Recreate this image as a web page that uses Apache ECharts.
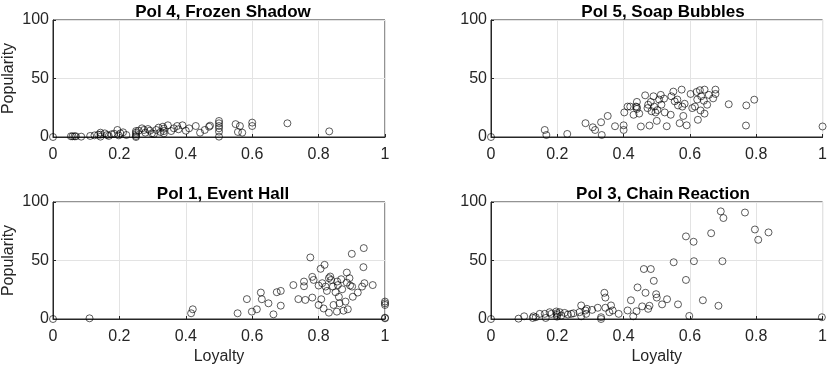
<!DOCTYPE html>
<html>
<head>
<meta charset="utf-8">
<script src="https://cdn.jsdelivr.net/npm/echarts@6/dist/echarts.min.js"></script>
<style>
  html, body { margin: 0; padding: 0; background: #fff; }
  #chart { width: 830px; height: 368px; }
</style>
</head>
<body>
<div id="chart"></div>
<script>
// panel titles, in drawing order: top-left, top-right, bottom-left, bottom-right
const titles = ['Pol 4, Frozen Shadow', 'Pol 5, Soap Bubbles', 'Pol 1, Event Hall', 'Pol 3, Chain Reaction']
const xTicks = [0, 0.2, 0.4, 0.6, 0.8, 1]
const yTicks = [0, 50, 100]

// [loyalty, popularity]
const frozenShadow = [
  [0, 0], [0.054, 0.6], [0.059, 0.6], [0.065, 0.6], [0.069, 0.6], [0.085, 0.3], [0.112, 0.9],
  [0.125, 1.4], [0.136, 2], [0.143, 3.7], [0.143, 2], [0.143, 0.3], [0.156, 3.1], [0.163, 1.7],
  [0.168, 0.9], [0.176, 2.3], [0.184, 2.8], [0.194, 6], [0.198, 1.4], [0.203, 3.1], [0.211, 4],
  [0.221, 1.7], [0.25, 5.1], [0.25, 3.7], [0.25, 2.3], [0.25, 0.9], [0.25, 0], [0.258, 5.4],
  [0.268, 7.4], [0.274, 6], [0.278, 3.7], [0.286, 6.8], [0.292, 5.4], [0.298, 3.1], [0.304, 2.6],
  [0.311, 6], [0.318, 8], [0.324, 4.3], [0.331, 8.8], [0.334, 7.1], [0.334, 5.1], [0.334, 3.1],
  [0.346, 10], [0.356, 5.1], [0.364, 7.4], [0.374, 9.4], [0.378, 6.6], [0.39, 10], [0.4, 5.4],
  [0.41, 7.4], [0.43, 9.4], [0.443, 3.7], [0.457, 6], [0.47, 8.8], [0.473, 9.7], [0.5, 13.7],
  [0.5, 11.7], [0.5, 9.4], [0.5, 7.4], [0.5, 4.6], [0.5, 0.3], [0.55, 11], [0.557, 4.3],
  [0.563, 9.4], [0.57, 3.7], [0.6, 12.3], [0.6, 9.4], [0.706, 11.7], [0.832, 4.8]
]
const soapBubbles = [
  [0, 0], [0.162, 6], [0.167, 1.7], [0.23, 2.6], [0.285, 11.8], [0.307, 8.3], [0.314, 6],
  [0.332, 12.6], [0.334, 1.7], [0.352, 18], [0.374, 9.2], [0.4, 10], [0.4, 6], [0.402, 21],
  [0.412, 26], [0.42, 26], [0.43, 19], [0.437, 26], [0.44, 30], [0.44, 25.6], [0.44, 24],
  [0.447, 20], [0.452, 9], [0.465, 35.6], [0.472, 24.7], [0.474, 27.6], [0.478, 9.8], [0.482, 30],
  [0.484, 22], [0.49, 34.8], [0.492, 26], [0.496, 21], [0.5, 13.8], [0.502, 23], [0.507, 32],
  [0.512, 36], [0.514, 27.6], [0.522, 32.8], [0.524, 21], [0.53, 9.2], [0.542, 19], [0.544, 34.8],
  [0.55, 38.8], [0.554, 30.5], [0.562, 32], [0.564, 27], [0.569, 11.8], [0.575, 40.5], [0.577, 26],
  [0.58, 18], [0.584, 28.4], [0.59, 10], [0.602, 36.8], [0.607, 24.7], [0.615, 26], [0.62, 38.5],
  [0.622, 32], [0.624, 14.7], [0.63, 40], [0.632, 22.7], [0.634, 34.8], [0.642, 31], [0.644, 40.5],
  [0.644, 20], [0.652, 27.6], [0.657, 36], [0.67, 33], [0.677, 36.8], [0.677, 40.5], [0.717, 28],
  [0.77, 27], [0.769, 9.8], [0.794, 31.9], [1, 9]
]
const eventHall = [
  [0, 0], [0.11, 0.6], [0.416, 4.9], [0.421, 8.3], [0.556, 4.9], [0.584, 17], [0.599, 6.3],
  [0.614, 8.3], [0.626, 22.6], [0.629, 16.9], [0.649, 13.4], [0.664, 4], [0.674, 22.9], [0.686, 24],
  [0.686, 11.4], [0.724, 29], [0.739, 17], [0.756, 32], [0.756, 28], [0.76, 16.3], [0.775, 52.6],
  [0.781, 18.3], [0.781, 36], [0.785, 33.4], [0.8, 28.6], [0.8, 12], [0.806, 42.9], [0.808, 16.9],
  [0.811, 30.6], [0.818, 46.3], [0.815, 9], [0.821, 27.7], [0.825, 24], [0.831, 5.4], [0.831, 34.9],
  [0.835, 36.3], [0.838, 33.4], [0.843, 27.7], [0.845, 12], [0.851, 22.9], [0.856, 32], [0.858, 29],
  [0.861, 19], [0.855, 6.3], [0.863, 13.4], [0.868, 34], [0.871, 25.4], [0.875, 7.1], [0.881, 14.9],
  [0.885, 39.7], [0.885, 31.1], [0.888, 8.3], [0.893, 34.9], [0.895, 28.6], [0.9, 55.7], [0.901, 27.7],
  [0.903, 19], [0.918, 22.6], [0.931, 27.7], [0.935, 44.3], [0.936, 60.6], [0.938, 30.6], [0.963, 29],
  [1, 14.9], [1, 13.4], [1, 12], [1, 1.1], [1, 0.6]
]
const chainReaction = [
  [0, 0], [0.083, 0.3], [0.1, 2.3], [0.126, 0.9], [0.128, 2.3], [0.135, 1.5], [0.147, 4.4],
  [0.162, 4.4], [0.165, 0.9], [0.177, 5.8], [0.182, 4.4], [0.197, 6.4], [0.199, 4.9], [0.199, 3.5],
  [0.199, 2], [0.207, 5.8], [0.212, 2.9], [0.222, 5.2], [0.232, 3.8], [0.242, 4.4], [0.249, 4.9],
  [0.267, 5.8], [0.272, 11.6], [0.272, 2.3], [0.285, 7.3], [0.287, 4.4], [0.289, 8.7], [0.305, 7.8],
  [0.322, 9.6], [0.332, 1.5], [0.332, 0], [0.342, 22.4], [0.345, 18.3], [0.345, 9.6], [0.357, 5.8],
  [0.362, 11.6], [0.367, 7.3], [0.385, 4.4], [0.412, 7.3], [0.422, 16], [0.429, 2.3], [0.439, 6.7],
  [0.442, 27], [0.456, 10.8], [0.461, 42.7], [0.466, 22.4], [0.474, 8.7], [0.478, 11.3], [0.482, 42.7],
  [0.491, 32.6], [0.498, 21.2], [0.5, 18.3], [0.516, 12.5], [0.531, 16.9], [0.551, 48.5], [0.564, 12.5],
  [0.588, 70.6], [0.588, 33.4], [0.598, 2.6], [0.611, 66], [0.612, 49.4], [0.639, 16], [0.664, 73.3],
  [0.686, 11.3], [0.693, 92], [0.698, 49.4], [0.701, 86.3], [0.766, 91], [0.796, 76.5], [0.806, 67.7],
  [0.837, 74], [0.998, 1.5]
]
const panelData = [frozenShadow, soapBubbles, eventHall, chainReaction]

const font = 'Liberation Sans, Arial, Helvetica, sans-serif'
const axisColor = '#262626'
// plot boxes: [left, top]
const boxes = [[51, 20], [491, 20], [51, 202], [491, 202]]
const boxW = 334
const boxH = 117

const grids = boxes.map(b => ({
  left: b[0], top: b[1], width: boxW, height: boxH,
  show: true, borderColor: axisColor, borderWidth: 1, backgroundColor: '#fff'
}))

const xAxes = boxes.map((b, i) => ({
  gridIndex: i, type: 'value', min: 0, max: 1, interval: 0.2,
  name: i >= 2 ? 'Loyalty' : '', nameLocation: 'middle', nameGap: 30,
  nameTextStyle: { fontFamily: font, fontSize: 16, color: axisColor },
  axisLine: { show: true, lineStyle: { color: axisColor, width: 1 } },
  axisTick: { show: true, inside: true, length: 3, lineStyle: { color: axisColor } },
  axisLabel: { fontFamily: font, fontSize: 16, color: axisColor, margin: 10,
    formatter: v => xTicks.includes(v) ? String(v) : '' },
  splitLine: { show: true, lineStyle: { color: '#e3e3e3', width: 1 } }
}))

const yAxes = boxes.map((b, i) => ({
  gridIndex: i, type: 'value', min: 0, max: 100, interval: 50,
  name: i % 2 === 0 ? 'Popularity' : '', nameLocation: 'middle', nameGap: 36,
  nameTextStyle: { fontFamily: font, fontSize: 16, color: axisColor },
  axisLine: { show: true, lineStyle: { color: axisColor, width: 1 } },
  axisTick: { show: true, inside: true, length: 3, lineStyle: { color: axisColor } },
  axisLabel: { fontFamily: font, fontSize: 16, color: axisColor, margin: 4,
    formatter: v => yTicks.includes(v) ? String(v) : '' },
  splitLine: { show: true, lineStyle: { color: '#e3e3e3', width: 1 } }
}))

const chart = echarts.init(document.getElementById('chart'))
chart.setOption({
  animation: false,
  title: boxes.map((b, i) => ({
    text: titles[i], left: b[0] + boxW / 2, top: b[1] - 21, textAlign: 'center',
    textStyle: { fontFamily: font, fontSize: 17, fontWeight: 'bold', color: '#000' }
  })),
  grid: grids,
  xAxis: xAxes,
  yAxis: yAxes,
  series: panelData.map((d, i) => ({
    type: 'scatter', xAxisIndex: i, yAxisIndex: i, data: d,
    symbol: 'circle', symbolSize: 7, clip: false,
    itemStyle: { color: 'rgba(0,0,0,0)', borderColor: '#000', borderWidth: 0.8 }
  }))
})
</script>
</body>
</html>
